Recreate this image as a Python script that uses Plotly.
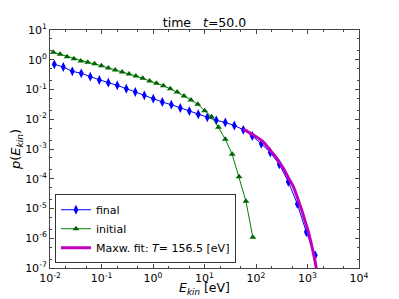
import plotly.graph_objects as go

# final distribution
final_E = [0.01212, 0.01812, 0.02710, 0.04052, 0.06061, 0.09064, 0.1355, 0.2026, 0.3031, 0.4532,
           0.6777, 1.0136, 1.516, 2.267, 3.390, 5.070, 7.58, 11.34, 16.95, 25.35,
           37.91, 56.69, 84.77, 126.8, 189.6, 283.5, 424.0, 634.0, 948.0, 1417.7]
final_p = [0.703, 0.570, 0.409, 0.351, 0.269, 0.209, 0.169, 0.138, 0.106, 0.0824,
           0.0638, 0.0491, 0.0380, 0.0308, 0.0239, 0.0189, 0.0147, 0.0116, 0.00923, 0.00778,
           0.00617, 0.00442, 0.00273, 0.00150, 0.000763, 0.000306, 7.89e-5, 1.42e-5, 1.62e-6, 2.67e-7]

# initial distribution
init_E = [0.01159, 0.01576, 0.02145, 0.02917, 0.03968, 0.05397, 0.07341, 0.09984, 0.1358, 0.1847,
          0.2513, 0.3418, 0.4648, 0.6323, 0.8601, 1.170, 1.591, 2.164, 2.943, 4.003,
          5.445, 7.406, 10.07, 13.70, 18.64, 25.35, 34.47, 46.90, 63.79, 86.77]
init_p = [1.78, 1.52, 1.27, 1.08, 0.908, 0.821, 0.731, 0.631, 0.528, 0.452,
          0.387, 0.332, 0.284, 0.238, 0.193, 0.162, 0.134, 0.106, 0.0824, 0.0605,
          0.0444, 0.0318, 0.0194, 0.0122, 0.00536, 0.00212, 0.000663, 0.000117, 1.75e-5, 1.08e-6]

# Maxwellian fit curve
fit_E = [56.6, 89.0, 138.0, 186.0, 260.0, 339.0, 430.0, 530.0, 650.0, 771.0, 900.0, 1037.0, 1150.0, 1262.0, 1462.0, 1514.0]
fit_p = [4.68e-3, 2.95e-3, 1.74e-3, 9.3e-4, 4.6e-4, 2.24e-4, 1.05e-4, 5.4e-5, 2.1e-5, 8.9e-6,
         3.7e-6, 1.66e-6, 8.0e-7, 4.03e-7, 1.1e-7, 5.0e-8]

T_fit = "156.5"

# tick labels
x_tick_vals = [1e-2, 1e-1, 1e0, 1e1, 1e2, 1e3, 1e4]
x_tick_text = ["10<sup>-2</sup>", "10<sup>-1</sup>", "10<sup>0</sup>", "10<sup>1</sup>",
               "10<sup>2</sup>", "10<sup>3</sup>", "10<sup>4</sup>"]
y_tick_vals = [1e-7, 1e-6, 1e-5, 1e-4, 1e-3, 1e-2, 1e-1, 1e0, 1e1]
y_tick_text = ["10<sup>-7</sup>", "10<sup>-6</sup>", "10<sup>-5</sup>", "10<sup>-4</sup>",
               "10<sup>-3</sup>", "10<sup>-2</sup>", "10<sup>-1</sup>", "10<sup>0</sup>",
               "10<sup>1</sup>"]

fig = go.Figure()
fig.add_trace(go.Scatter(
    x=final_E, y=final_p, mode="lines+markers", name="final",
    line=dict(color="#0000ff", width=1),
    marker=dict(symbol="diamond-tall", size=7, color="#0000ff", line=dict(width=0)),
))
fig.add_trace(go.Scatter(
    x=init_E, y=init_p, mode="lines+markers", name="initial",
    line=dict(color="#008000", width=1),
    marker=dict(symbol="triangle-up", size=6, color="#006400", line=dict(width=0)),
))
fig.add_trace(go.Scatter(
    x=fit_E, y=fit_p, mode="lines", name="Maxw. fit: <i>T</i>= " + T_fit + " [eV]",
    line=dict(color="#bf00bf", width=3, shape="spline"),
))

axis_common = dict(
    type="log", showgrid=False, zeroline=False, automargin=False,
    showline=True, linecolor="#444444", linewidth=1, mirror="allticks",
    ticks="inside", ticklen=4, tickcolor="#444444",
    minor=dict(ticks="inside", ticklen=2, tickcolor="#444444", showgrid=False),
    tickfont=dict(family="DejaVu Sans", size=11, color="black"),
)

# page body has an 8px margin, so the figure is 8px smaller than the window
fig.update_layout(
    width=391, height=291,
    margin=dict(l=42, r=40, t=22, b=31, autoexpand=False),
    paper_bgcolor="white", plot_bgcolor="white",
    font=dict(family="DejaVu Sans", size=11, color="black"),
    title=dict(text="time   <i>t</i>=50.0", xref="paper", x=0.5, xanchor="center",
               yref="container", y=0.95, yanchor="middle", automargin=False,
               font=dict(family="DejaVu Sans", size=12.5, color="black")),
    xaxis=dict(axis_common, range=[-2, 4], tickmode="array",
               tickvals=x_tick_vals, ticktext=x_tick_text),
    yaxis=dict(axis_common, range=[-7, 1], tickmode="array",
               tickvals=y_tick_vals, ticktext=y_tick_text,
               title=dict(text="<i>p</i>(<i>E</i><sub><i>kin</i></sub>)", standoff=6,
                          font=dict(family="DejaVu Sans", size=13))),
    legend=dict(x=0.016, y=0.02, xanchor="left", yanchor="bottom",
                bordercolor="#333333", borderwidth=1, bgcolor="white",
                font=dict(family="DejaVu Sans", size=11), tracegroupgap=0,
                itemwidth=30),
    showlegend=True,
    annotations=[dict(
        text="<i>E</i><sub><i>kin</i></sub> [eV]", xref="paper", yref="paper",
        x=0.5, y=-0.088, xanchor="center", yanchor="middle", showarrow=False,
        font=dict(family="DejaVu Sans", size=12.5, color="black"),
    )],
)

fig.write_html("out.html")
